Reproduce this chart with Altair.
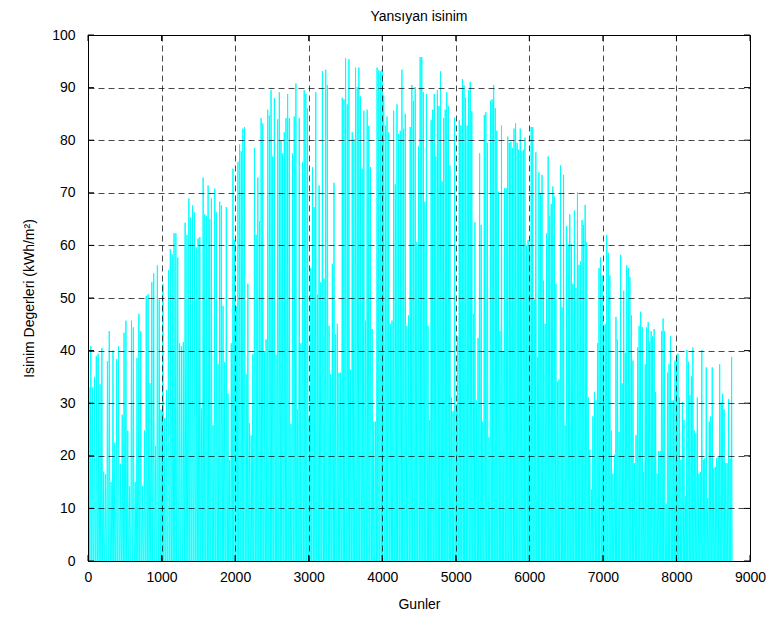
import altair as alt
import pandas as pd

chart_title = "Yansıyan isinim"
x_title = "Gunler"
y_title = "Isinim Degerleri (kWh/m²)"
x_ticks = [0, 1000, 2000, 3000, 4000, 5000, 6000, 7000, 8000, 9000]
y_ticks = [0, 10, 20, 30, 40, 50, 60, 70, 80, 90, 100]

# hour at which each read-off stretch of the series ends
segment_end_hours = [1509, 3018, 4527, 6036, 7545, 8760]

# daily peak values, stretch by stretch
peaks_1 = [33, 40.8, 33, 35, 39, 39.4, 33.6, 40.5, 17, 16.5, 38, 43.7, 15, 40, 22.5, 38.4, 40.8, 18.5,
           27.8, 43.4, 45.7, 24.8, 14.2, 45.7, 44.4, 15, 38.6, 47, 43.7, 14.2, 24.8, 50.4, 50.7, 33.8,
           53, 54.7, 21.9, 56.2, 49.7, 28.8, 52.7, 27.2, 32.5, 55.3, 59.3, 58.3, 62.3, 62.3, 57.7, 41.4,
           40.8, 41.6, 64.3, 62, 68.9, 65.3, 67.6, 66.3, 59.6, 61.3]
peaks_2 = [61.6, 29, 72.9, 65.9, 65.6, 71.4, 65, 68.9, 25.8, 70.8, 66.3, 37.4, 68.3, 67.6, 48.5, 37.8,
           67.3, 31.8, 19.2, 41.4, 74.6, 61, 48.4, 75.9, 79.2, 77.9, 82.2, 82.5, 35.5, 52.7, 26.2, 23.9,
           39.4, 78.5, 62, 72.9, 64.6, 84.2, 83.2, 39.8, 42.1, 85.8, 84.7, 89.5, 76.9, 88, 39.2, 84,
           89.1, 79.9, 77.5, 81.5, 84.2, 88.8, 84.2, 26, 77.5, 84.5, 90.8, 28.8, 84.2, 41.4, 75.9, 89.5,
           88.8, 86.1, 27.2]
peaks_3 = [55.7, 74.9, 67.3, 89.1, 50.7, 71.4, 53, 93.1, 53.7, 93.4, 90.5, 44.7, 35.5, 56.5, 71.9, 43.1,
           45.1, 35.8, 35.8, 88.1, 87.8, 95.6, 86.8, 95.4, 36.4, 81.5, 80.2, 93.8, 90.1, 93.8, 88.3,
           74.6, 85.6, 45.7, 85.8, 82.7, 74.9, 44.1, 26.5, 26.5, 93.8, 93.3, 93.1, 93.4, 88.5, 82.8,
           84.5, 81.5, 45.1, 45.7, 85.6, 71.6, 86.8, 81.2, 81.8, 93.4, 82.2, 85, 44.7, 46.7, 82.5, 90.5,
           87.5, 90.1, 60.6, 78.9, 95.8]
peaks_4 = [95.8, 89.1, 68.3, 88.8, 44.7, 26.8, 83.8, 85.8, 88.8, 76.9, 89.5, 86.5, 93.1, 72.2, 84.2,
           85.8, 89.1, 86.5, 75.2, 31.1, 28.5, 84.3, 29.8, 42.7, 83.8, 82.8, 91.6, 90.5, 88.1, 82.8,
           89.5, 91.1, 85.5, 47, 64.4, 30.5, 42.4, 77.5, 63.9, 26.5, 84.8, 85.3, 79.5, 23.5, 87.5, 87.8,
           90.5, 86.1, 81.8, 70.2, 43.7, 82.8, 39.8, 70.9, 70.9, 80.7, 79.5, 79.7, 78.5, 82.2, 83.2,
           79.5, 78.2, 82.2, 77.9, 78.2, 80.5, 60, 61, 59, 82.5]
peaks_5 = [82.5, 49.7, 77.7, 38.8, 73.9, 69.9, 73.4, 53.3, 45.1, 62.3, 76.9, 65.6, 67.9, 71.2, 69.3,
           52.7, 34.1, 34.5, 75.2, 48.2, 73.4, 25.8, 63.7, 60.2, 65.9, 60.3, 52.7, 66.6, 51.9, 70.1,
           56.3, 57, 64.8, 63.9, 67.7, 60.6, 31.1, 21.2, 13.6, 27.5, 32.1, 30.5, 41.4, 55.7, 57.7, 54.3,
           44.7, 45.1, 62, 58.6, 54.3, 24.8, 16.6, 20.2, 46.4, 42.1, 24.5, 58.2, 33.8, 51.4, 39.6, 56.2,
           55.7, 54, 46.7, 38.1, 18.6, 23.9, 40.6, 44.7, 47.4, 44.5]
peaks_6 = [16.9, 37.4, 44.4, 45.4, 41.7, 43.7, 42.7, 44.1, 32.1, 16.6, 20.9, 20.9, 43.7, 46.1, 43.7,
           10.9, 35.8, 37.4, 42.7, 30.5, 30.5, 38.1, 39.2, 39.4, 31.1, 19.2, 30.2, 26.8, 12.3, 40.1,
           37.9, 31.5, 35.1, 40.6, 24.8, 24.2, 31.1, 16.6, 16.9, 40.1, 19.2, 19.5, 36.8, 11.9, 26.5,
           27.5, 36.8, 17.6, 17.9, 19.5, 19.9, 37.4, 30.2, 31.8, 28.8, 18.6, 18.6, 30.8, 19.5, 38.8]

segments = [peaks_1, peaks_2, peaks_3, peaks_4, peaks_5, peaks_6]

# each day: night (0) -> noon peak -> night (0)
rows = []
start = 0.0
for end, peaks in zip(segment_end_hours, segments):
    step = (end - start) / len(peaks)
    for i, p in enumerate(peaks):
        t0 = start + i * step
        rows.append({"hour": t0 + 0.15 * step, "value": 0.0})
        rows.append({"hour": t0 + 0.5 * step, "value": p})
        rows.append({"hour": t0 + 0.85 * step, "value": 0.0})
    start = end
df = pd.DataFrame(rows)
df["order"] = range(len(df))

W, H = 662, 526
FONT = "Liberation Sans"

x_scale = alt.Scale(domain=[0, 9000], nice=False, zero=False)
y_scale = alt.Scale(domain=[0, 100], nice=False)

line = alt.Chart(df).mark_line(color="#00FFFF", strokeWidth=1, clip=True).encode(
    x=alt.X("hour:Q", scale=x_scale,
            axis=alt.Axis(values=x_ticks, title=x_title, grid=True, ticks=False, format="d",
                          labelPadding=9, labelFlush=False, labelOverlap=False,
                          titleY=43, titleBaseline="middle", zindex=1)),
    y=alt.Y("value:Q", scale=y_scale,
            axis=alt.Axis(values=y_ticks, title=y_title, grid=True, ticks=False, format="d",
                          labelPadding=13, labelOverlap=False, labelFlush=False,
                          titleX=-59, titleY=H / 2, titleAngle=270, titleAlign="center",
                          titleBaseline="middle", zindex=1)),
    order="order:Q",
)

xt = pd.DataFrame({"v": x_ticks})
yt = pd.DataFrame({"v": y_ticks})
tick_len = 6

bottom_ticks = alt.Chart(xt).mark_rule(color="black", strokeWidth=1).encode(
    x=alt.X("v:Q", scale=x_scale, axis=None), y=alt.value(H), y2=alt.value(H - tick_len))
top_ticks = alt.Chart(xt).mark_rule(color="black", strokeWidth=1).encode(
    x=alt.X("v:Q", scale=x_scale, axis=None), y=alt.value(0), y2=alt.value(tick_len))
left_ticks = alt.Chart(yt).mark_rule(color="black", strokeWidth=1).encode(
    y=alt.Y("v:Q", scale=y_scale, axis=None), x=alt.value(0), x2=alt.value(tick_len))
right_ticks = alt.Chart(yt).mark_rule(color="black", strokeWidth=1).encode(
    y=alt.Y("v:Q", scale=y_scale, axis=None), x=alt.value(W), x2=alt.value(W - tick_len))

chart = alt.layer(line, bottom_ticks, top_ticks, left_ticks, right_ticks).resolve_axis(
    x="independent", y="independent"
).properties(
    width=W, height=H,
    title=alt.TitleParams(chart_title, fontSize=14, fontWeight="normal", font=FONT,
                          color="black", anchor="middle", offset=2, baseline="bottom", dy=12),
    autosize=alt.AutoSizeParams(type="none"),
    padding={"left": 80, "top": 27, "right": 22, "bottom": 54},
).configure(
    background="white",
).configure_view(
    stroke="black", strokeWidth=1,
).configure_axis(
    labelFont=FONT, titleFont=FONT, labelFontSize=14, titleFontSize=14,
    labelColor="black", titleColor="black", titleFontWeight="normal",
    domainColor="black", domainWidth=1,
    gridColor="black", gridDash=[6, 4], gridWidth=0.8, gridOpacity=0.9,
)

chart.save("out.html", embed_options={"renderer": "svg", "actions": False})
